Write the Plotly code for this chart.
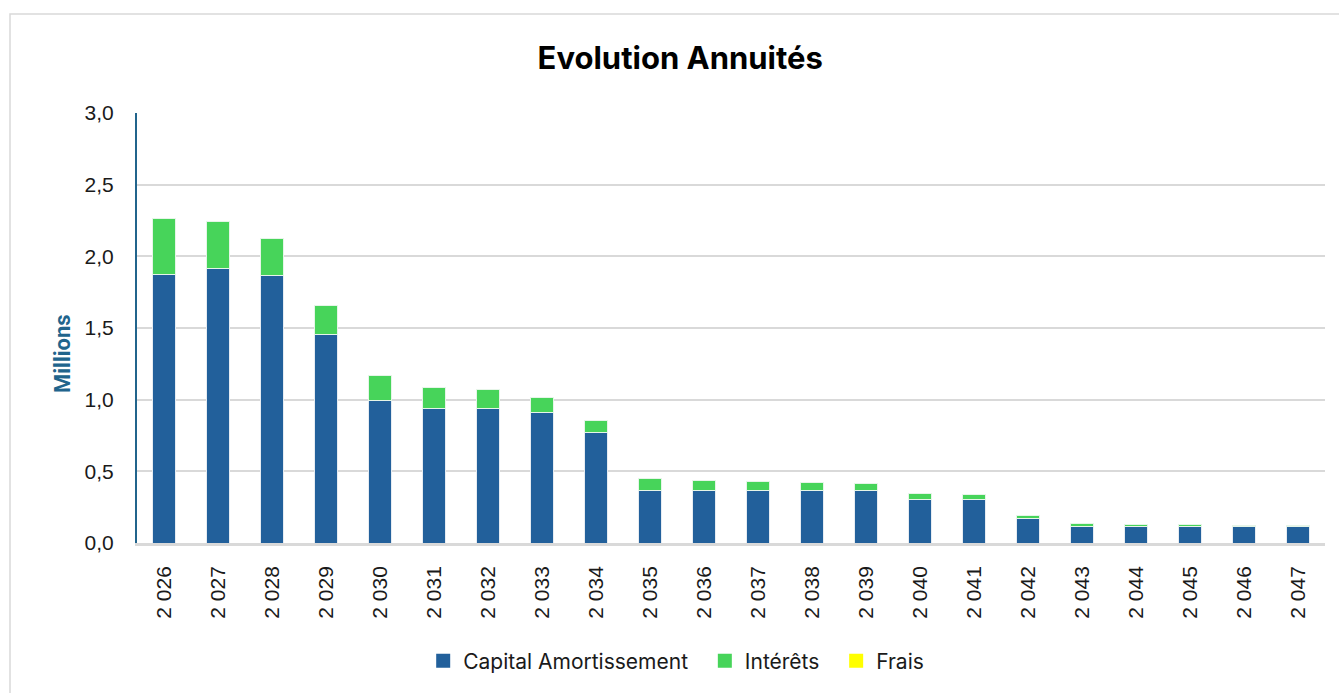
import plotly.graph_objects as go

years = ["2 026", "2 027", "2 028", "2 029", "2 030", "2 031", "2 032", "2 033",
         "2 034", "2 035", "2 036", "2 037", "2 038", "2 039", "2 040", "2 041",
         "2 042", "2 043", "2 044", "2 045", "2 046", "2 047"]

capital = [1.871, 1.915, 1.866, 1.458, 0.995, 0.936, 0.941, 0.908,
           0.771, 0.369, 0.369, 0.369, 0.369, 0.369, 0.306, 0.306,
           0.173, 0.118, 0.118, 0.118, 0.118, 0.118]

interets = [0.391, 0.325, 0.261, 0.201, 0.174, 0.151, 0.128, 0.107,
            0.086, 0.080, 0.068, 0.061, 0.054, 0.047, 0.040, 0.031,
            0.019, 0.016, 0.011, 0.009, 0.002, 0.001]

frais = [0.0] * len(years)

series_names = ["Capital Amortissement", "Intérêts", "Frais"]

BLUE = "#22609B"
GREEN = "#47D45A"
YELLOW = "#FFFF00"
AXIS_BLUE = "#21648C"
colors = [BLUE, GREEN, YELLOW]

fig = go.Figure()
fig.add_trace(go.Bar(x=years, y=capital, name=series_names[0], showlegend=False,
                     marker=dict(color=BLUE, line=dict(color="#E6ECF2", width=1))))
fig.add_trace(go.Bar(x=years, y=interets, name=series_names[1], showlegend=False,
                     marker=dict(color=GREEN, line=dict(color="#E6F5E8", width=1))))
fig.add_trace(go.Bar(x=years, y=frais, name=series_names[2], showlegend=False,
                     marker=dict(color=YELLOW, line=dict(width=0))))

# legend entries with larger square swatches
PAD = "\u00a0\u00a0"
for i, (nm, c) in enumerate(zip(series_names, colors)):
    label = nm + (PAD if i < len(series_names) - 1 else "")
    fig.add_trace(go.Scatter(x=[None], y=[None], mode="markers", name=label,
                             marker=dict(symbol="square", size=14, color=c),
                             showlegend=True))

W, H = 1339, 693
L, R, T, B = 137, 14, 113, 150
pw, ph = W - L - R, H - T - B

def px_to_paper_x(px):
    return (px - L) / pw

def px_to_paper_y(py):
    return (H - B - py) / ph

fig.update_layout(
    width=W, height=H,
    margin=dict(l=L, r=R, t=T, b=B),
    barmode="stack",
    bargap=0.59,
    separators=", ",
    paper_bgcolor="white",
    plot_bgcolor="white",
    font=dict(family="Liberation Sans, Arial, sans-serif", size=20, color="#1a1a1a"),
    title=dict(text="<b>Evolution Annuités</b>",
               font=dict(family="Inter, Roboto, sans-serif", size=31, color="black"),
               x=0.508, xanchor="center", xref="container",
               y=1 - 58 / H, yanchor="middle", yref="container"),
    legend=dict(orientation="h", x=0.505, xanchor="center", xref="container",
                y=1 - 661 / H, yanchor="middle", yref="container",
                font=dict(family="Inter, Roboto, sans-serif", size=21, color="#1a1a1a"),
                traceorder="normal", itemsizing="trace", itemwidth=30),
    showlegend=True,
    shapes=[dict(type="rect", xref="paper", yref="paper",
                 x0=px_to_paper_x(10), x1=px_to_paper_x(W + 5),
                 y0=px_to_paper_y(H + 5), y1=px_to_paper_y(14),
                 line=dict(color="#D9D9D9", width=1.5), layer="below")],
    annotations=[dict(text="<b>Millions</b>", textangle=-90, showarrow=False,
                      xref="paper", yref="paper",
                      x=px_to_paper_x(62), y=px_to_paper_y(354),
                      xanchor="center", yanchor="middle",
                      font=dict(family="Roboto, sans-serif", size=22, color=AXIS_BLUE))],
)

fig.update_yaxes(
    range=[0, 3], dtick=0.5, tickformat=".1f",
    showgrid=True, gridcolor="#D9D9D9", gridwidth=1.5,
    showline=True, linecolor=AXIS_BLUE, linewidth=2,
    zeroline=False, ticks="", ticklabelstandoff=17,
    tickfont=dict(size=21, color="#1a1a1a"),
)

fig.update_xaxes(
    type="category", tickangle=-90,
    showline=True, linecolor="#D9D9D9", linewidth=2.5,
    showgrid=False, ticks="", ticklabelstandoff=12,
    tickfont=dict(size=21, color="#1a1a1a"),
)

fig.write_html("out.html")
